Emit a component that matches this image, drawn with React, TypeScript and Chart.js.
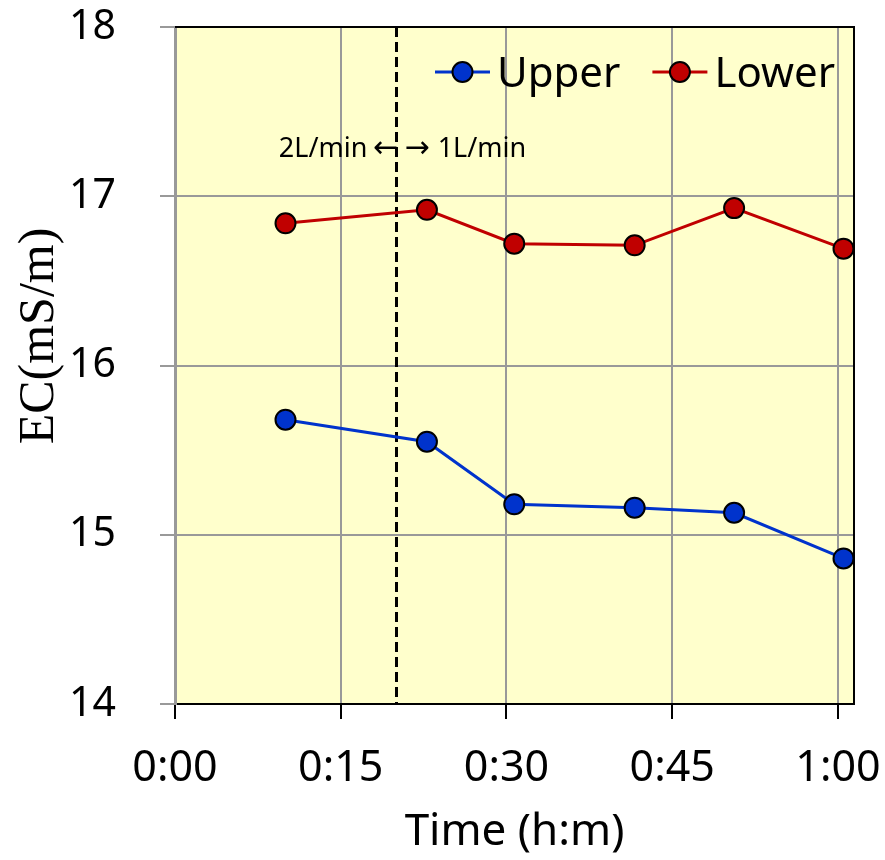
import React, { useEffect, useRef } from "react";
import { Chart, registerables } from "chart.js";

Chart.register(...registerables);

// ---- data ----
const timeMinutes = [10, 22.8, 30.7, 41.6, 50.6, 60.5];
const upperEC = [15.68, 15.55, 15.18, 15.16, 15.13, 14.86];
const lowerEC = [16.84, 16.92, 16.72, 16.71, 16.93, 16.69];
const seriesNames = ["Upper", "Lower"];
const xTickValues = [0, 15, 30, 45, 60];
const xTickLabels = ["0:00", "0:15", "0:30", "0:45", "1:00"];
const yTickValues = [14, 15, 16, 17, 18];
const flowChangeMinute = 20;
const flowLabelLeft = "2L/min";
const flowLabelRight = "1L/min";
const arrowLeft = "\u2190";
const arrowRight = "\u2192";
const xTitle = "Time (h:m)";
const yTitle = "EC(mS/m)";

const SANS = "'Noto Sans', 'Open Sans', sans-serif";
const SERIF = "'Liberation Serif', 'DejaVu Serif', serif";
const ARROWF = "'DejaVu Sans', sans-serif";
const BLUE = "#0033CC";
const RED = "#C00000";

const decorPlugin = {
  id: "decor",
  beforeDraw(chart: any) {
    const { ctx, chartArea: a } = chart;
    ctx.save();
    ctx.fillStyle = "#FFFFCC";
    ctx.fillRect(a.left, a.top, a.right - a.left, a.bottom - a.top);
    ctx.restore();
  },
  beforeDatasetsDraw(chart: any) {
    const { ctx, chartArea: a, scales } = chart;
    const x = Math.round(scales.x.getPixelForValue(flowChangeMinute)) + 0.5;
    ctx.save();
    ctx.strokeStyle = "#000";
    ctx.lineWidth = 3;
    ctx.setLineDash([10, 5]);
    ctx.beginPath();
    ctx.moveTo(x, a.top);
    ctx.lineTo(x, a.bottom);
    ctx.stroke();
    ctx.setLineDash([]);
    // flow annotation
    const y = scales.y.getPixelForValue(17.23);
    ctx.fillStyle = "#000";
    ctx.textBaseline = "alphabetic";
    ctx.font = `30px ${ARROWF}`;
    ctx.textAlign = "right";
    ctx.fillText(arrowLeft, x + 2, y);
    const lw = ctx.measureText(arrowLeft).width;
    ctx.textAlign = "left";
    ctx.fillText(arrowRight, x + 8, y);
    const rw = ctx.measureText(arrowRight).width;
    ctx.font = `27px ${SANS}`;
    ctx.textAlign = "right";
    ctx.fillText(flowLabelLeft, x + 2 - lw - 6, y);
    ctx.textAlign = "left";
    ctx.fillText(flowLabelRight, x + 8 + rw + 8, y);
    ctx.restore();
  },
  afterDraw(chart: any) {
    const { ctx, chartArea: a } = chart;
    ctx.save();
    // top/right borders
    ctx.strokeStyle = "#000";
    ctx.lineWidth = 2;
    ctx.beginPath();
    ctx.moveTo(a.left, a.top);
    ctx.lineTo(a.right, a.top);
    ctx.lineTo(a.right, a.bottom);
    ctx.stroke();

    // y title
    ctx.save();
    ctx.translate(53, 336);
    ctx.rotate(-Math.PI / 2);
    ctx.font = `50px ${SERIF}`;
    ctx.fillStyle = "#000";
    ctx.textAlign = "center";
    ctx.textBaseline = "alphabetic";
    ctx.fillText(yTitle, 0, 0);
    ctx.restore();

    // legend
    let lx = a.left + 260;
    const ly = a.top + 45;
    ctx.font = `42px ${SANS}`;
    chart.data.datasets.forEach((ds: any) => {
      ctx.strokeStyle = ds.borderColor;
      ctx.lineWidth = 3;
      ctx.beginPath();
      ctx.moveTo(lx, ly);
      ctx.lineTo(lx + 55, ly);
      ctx.stroke();
      ctx.beginPath();
      ctx.arc(lx + 27.5, ly, 10, 0, Math.PI * 2);
      ctx.fillStyle = ds.pointBackgroundColor;
      ctx.fill();
      ctx.lineWidth = 2;
      ctx.strokeStyle = "#000";
      ctx.stroke();
      ctx.fillStyle = "#000";
      ctx.textAlign = "left";
      ctx.textBaseline = "alphabetic";
      ctx.fillText(ds.label, lx + 62, ly + 15);
      lx += 62 + ctx.measureText(ds.label).width + 32;
    });
    ctx.restore();
  },
};

export default function App() {
  const ref = useRef<HTMLCanvasElement | null>(null);
  useEffect(() => {
    if (!ref.current) return;
    Chart.defaults.font.family = SANS;
    const mk = (vals: number[]) => timeMinutes.map((t, i) => ({ x: t, y: vals[i] }));
    const chart = new Chart(ref.current, {
      type: "line",
      data: {
        datasets: [
          {
            label: seriesNames[0],
            data: mk(upperEC),
            borderColor: BLUE,
            backgroundColor: BLUE,
            pointBackgroundColor: BLUE,
            pointBorderColor: "#000",
            pointBorderWidth: 2,
            pointRadius: 10,
            borderWidth: 3,
            tension: 0,
          },
          {
            label: seriesNames[1],
            data: mk(lowerEC),
            borderColor: RED,
            backgroundColor: RED,
            pointBackgroundColor: RED,
            pointBorderColor: "#000",
            pointBorderWidth: 2,
            pointRadius: 10,
            borderWidth: 3,
            tension: 0,
          },
        ],
      },
      options: {
        animation: false,
        responsive: false,
        devicePixelRatio: 1,
        layout: { padding: { left: 0, top: 27, right: 31, bottom: 0 } },
        plugins: {
          legend: { display: false },
          tooltip: { enabled: false },
        },
        scales: {
          x: {
            type: "linear",
            min: 0,
            max: 61.45,
            afterBuildTicks: (scale: any) => {
              scale.ticks = xTickValues.map((v) => ({ value: v }));
            },
            afterFit: (scale: any) => {
              scale.height = 156;
              scale.paddingLeft = 0;
              scale.paddingRight = 0;
            },
            ticks: {
              autoSkip: false,
              maxRotation: 0,
              padding: 24,
              color: "#000",
              font: { size: 43, family: SANS },
              callback: (v: any) => {
                const i = xTickValues.indexOf(Number(v));
                return i >= 0 ? xTickLabels[i] : "";
              },
            },
            grid: {
              color: "#999",
              lineWidth: 2,
              tickColor: "#000",
              tickLength: 15,
              tickWidth: 2,
            },
            border: { display: true, color: "#000", width: 2 },
            title: {
              display: true,
              text: xTitle,
              color: "#000",
              font: { size: 44, family: SANS, lineHeight: 1.2 },
              padding: { top: 0, bottom: 1 },
            },
          },
          y: {
            type: "linear",
            min: 14,
            max: 18,
            afterBuildTicks: (scale: any) => {
              scale.ticks = yTickValues.map((v) => ({ value: v }));
            },
            afterFit: (scale: any) => {
              scale.width = 175;
              scale.paddingTop = 0;
              scale.paddingBottom = 0;
            },
            ticks: {
              padding: 44,
              color: "#000",
              font: { size: 41, family: SANS },
              callback: (v: any) => String(v),
            },
            grid: {
              color: "#999",
              lineWidth: 2,
              tickColor: "#999",
              tickLength: 15,
              tickWidth: 2,
            },
            border: { display: true, color: "#999", width: 3 },
          },
        },
      },
      plugins: [decorPlugin],
    });
    return () => chart.destroy();
  }, []);
  return (
    <div style={{ position: "absolute", left: 0, top: 0, width: 885, height: 860, background: "#fff" }}>
      <canvas ref={ref} width={885} height={860} style={{ width: 885, height: 860, display: "block" }} />
    </div>
  );
}
